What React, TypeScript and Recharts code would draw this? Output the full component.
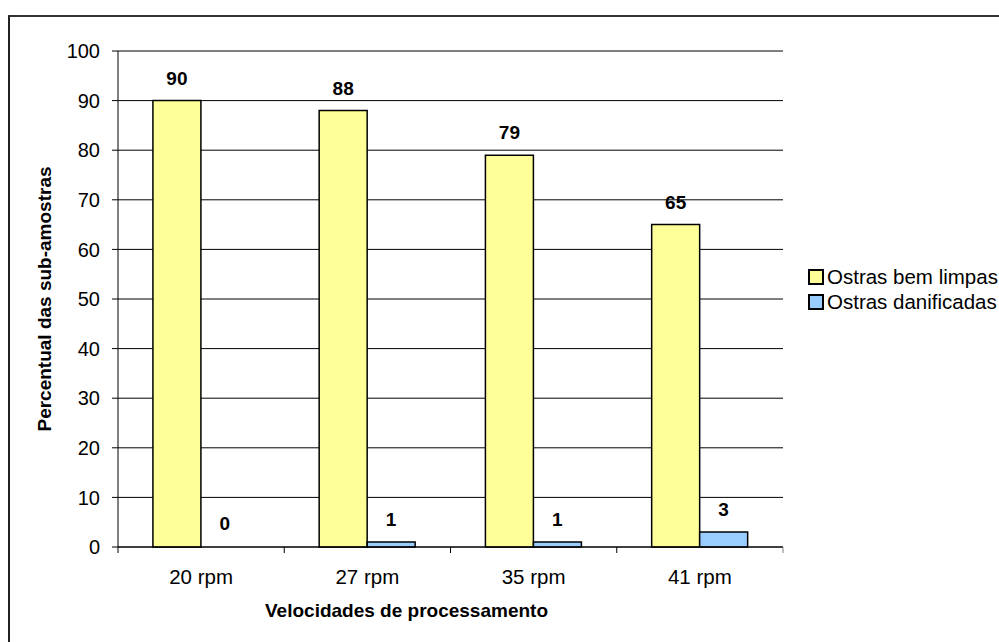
import React from 'react';
import {
  BarChart,
  Bar,
  XAxis,
  YAxis,
  CartesianGrid,
  LabelList,
  Label,
  Rectangle,
} from 'recharts';

const categories = ['20 rpm', '27 rpm', '35 rpm', '41 rpm'];
const bemLimpas = [90, 88, 79, 65];
const danificadas = [0, 1, 1, 3];
const yTicks = [0, 10, 20, 30, 40, 50, 60, 70, 80, 90, 100];

const seriesNames = ['Ostras bem limpas', 'Ostras danificadas'];
const seriesColors = ['#FFFF99', '#99CCFF'];

const FONT = 'Arial, "Liberation Sans", sans-serif';

const chartData = categories.map((name, i) => ({
  name,
  limpas: bemLimpas[i],
  danificadas: danificadas[i],
}));

const CategoryTick = (props: any) => {
  const { x, y, payload, index } = props;
  const half = payload.offset ?? 83;
  return (
    <g>
      <line x1={x - half} y1={y - 6} x2={x - half} y2={y} stroke="#000" />
      {index === categories.length - 1 && (
        <line x1={x + half} y1={y - 6} x2={x + half} y2={y} stroke="#808080" />
      )}
      <text
        x={x}
        y={y + 31}
        textAnchor="middle"
        fontSize={20.5}
        fontFamily={FONT}
        fill="#000"
      >
        {payload.value}
      </text>
    </g>
  );
};

// value label that still shows for zero-height bars
const ValueLabel = (props: any) => {
  const { x, y, width, value } = props;
  return (
    <text
      x={x + width / 2}
      y={y - 16}
      textAnchor="middle"
      fontFamily={FONT}
      fontSize={19}
      fontWeight="bold"
      fill="#000"
    >
      {value}
    </text>
  );
};

// zero values get a 1px placeholder so the label is kept, but nothing is drawn
const DamagedShape = (props: any) =>
  props.payload.danificadas === 0 ? <g /> : <Rectangle {...props} />;

const LegendBox = () => (
  <div style={{ fontFamily: FONT, fontSize: 20.5, color: '#000' }}>
    {seriesNames.map((n, i) => (
      <div key={n} style={{ display: 'flex', alignItems: 'center', height: 25 }}>
        <span
          style={{
            display: 'inline-block',
            width: 12,
            height: 12,
            border: '2px solid #000',
            background: seriesColors[i],
            marginRight: 3,
          }}
        />
        <span>{n}</span>
      </div>
    ))}
  </div>
);

export default function App() {
  return (
    <div
      style={{
        position: 'absolute',
        left: 0,
        top: 0,
        width: 999,
        height: 642,
        overflow: 'hidden',
        background: '#fff',
      }}
    >
      <div
        style={{
          position: 'absolute',
          left: 8,
          top: 15,
          width: 1200,
          height: 900,
          borderTop: '2px solid #333',
          borderLeft: '2px solid #222',
        }}
      />
      <div style={{ position: 'absolute', left: 0, top: 0 }}>
        <BarChart
          width={999}
          height={642}
          data={chartData}
          margin={{ top: 51, right: 216, bottom: 0, left: 0 }}
          barCategoryGap="21%"
          barGap={0}
        >
          <CartesianGrid vertical={false} stroke="#000" />
          <XAxis
            dataKey="name"
            height={95}
            axisLine={{ stroke: '#000' }}
            tickLine={false}
            tickSize={6}
            tickMargin={0}
            tick={<CategoryTick />}
            interval={0}
          >
            <Label
              value="Velocidades de processamento"
              position="insideTop"
              offset={57}
              dx={-44}
              style={{ fontFamily: FONT, fontSize: 19, fontWeight: 'bold', fill: '#000' }}
            />
          </XAxis>
          <YAxis
            width={118}
            domain={[0, 100]}
            ticks={yTicks}
            interval={0}
            axisLine={{ stroke: '#000' }}
            tickLine={{ stroke: '#000' }}
            tickSize={6}
            tickMargin={12}
            tick={{ fontFamily: FONT, fontSize: 20, fill: '#000' }}
          >
            <Label
              value="Percentual das sub-amostras"
              angle={-90}
              position="center"
              dx={-15}
              style={{ fontFamily: FONT, fontSize: 19, fontWeight: 'bold', fill: '#000', textAnchor: 'middle' }}
            />
          </YAxis>
          <YAxis
            yAxisId="right"
            orientation="right"
            width={0}
            domain={[0, 100]}
            tick={false}
            tickLine={false}
            axisLine={{ stroke: '#808080' }}
          />
          <Bar
            dataKey="limpas"
            name={seriesNames[0]}
            fill={seriesColors[0]}
            stroke="#000"
            strokeWidth={1.5}
            isAnimationActive={false}
          >
            <LabelList dataKey="limpas" content={<ValueLabel />} />
          </Bar>
          <Bar
            dataKey="danificadas"
            name={seriesNames[1]}
            fill={seriesColors[1]}
            stroke="#000"
            strokeWidth={1.5}
            minPointSize={1}
            shape={<DamagedShape />}
            isAnimationActive={false}
          >
            <LabelList dataKey="danificadas" content={<ValueLabel />} />
          </Bar>
        </BarChart>
      </div>
      <div style={{ position: 'absolute', left: 808, top: 264 }}>
        <LegendBox />
      </div>
    </div>
  );
}
